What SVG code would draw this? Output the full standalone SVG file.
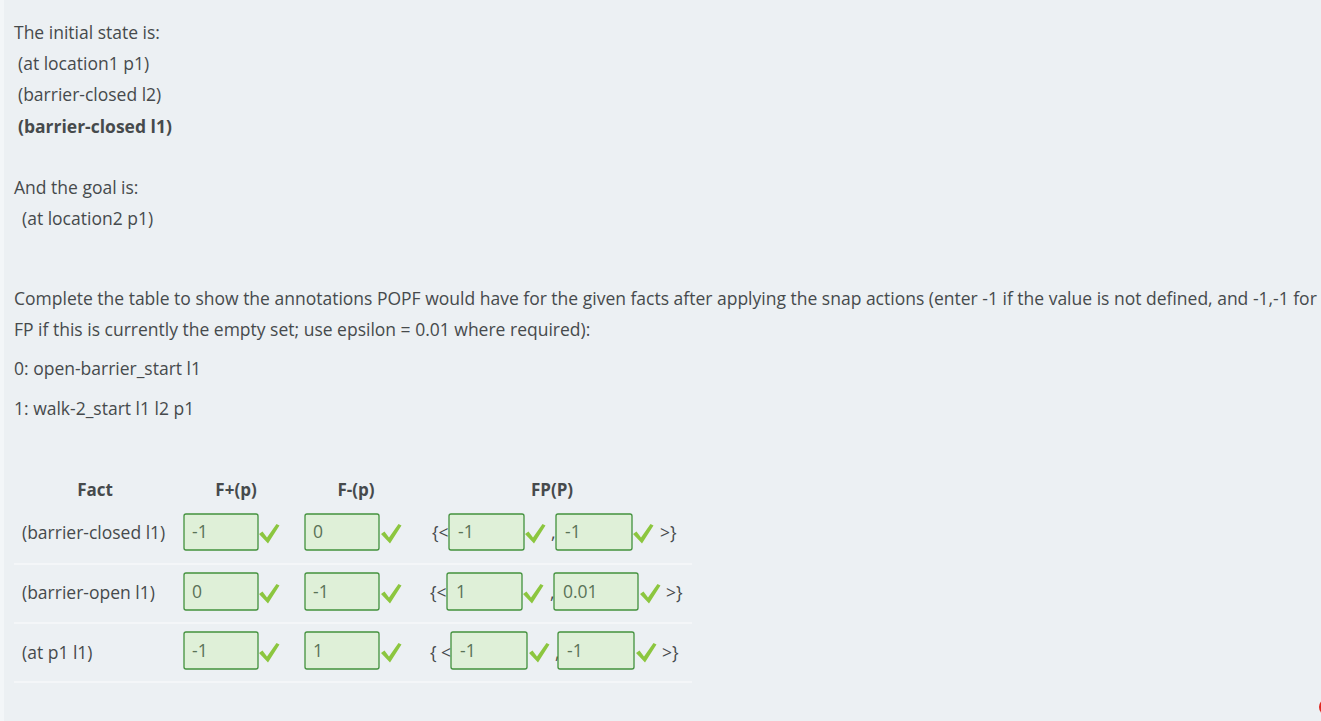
<svg xmlns="http://www.w3.org/2000/svg" width="1321" height="721" viewBox="0 0 1321 721">
<defs>
<style>
text{font-family:"Open Sans","Noto Sans","Liberation Sans",sans-serif;font-size:17.5px;fill:#464a4c}
.b{font-weight:bold}
.h{font-weight:bold;text-anchor:middle;font-size:17px}
.box{fill:#dff0d8;stroke:#43913d;stroke-width:1.3}
.v{fill:#5a7257}
.sep{stroke:#fbfcfd;stroke-width:1.2}
.chk{fill:#8cc63f}
</style>
<polygon id="chk" class="chk" points="0,10 3.5,7.5 8,13.5 17.5,0 20.5,1.5 9,19.5"/>
</defs>
<rect x="0" y="0" width="1321" height="721" fill="#ecf0f3"/>
<rect x="0" y="0" width="4" height="721" fill="#f3f6f8"/>
<g id="intro">
<text x="14" y="38.5">The initial state is:</text>
<text x="18" y="69.5">(at location1 p1)</text>
<text x="18" y="100.5">(barrier-closed l2)</text>
<text x="18" y="132.5" class="b">(barrier-closed l1)</text>
<text x="14" y="193.5">And the goal is:</text>
<text x="22" y="224.5">(at location2 p1)</text>
<text x="14" y="304.5">Complete the table to show the annotations POPF would have for the given facts after applying the snap actions (enter -1 if the value is not defined, and -1,-1 for</text>
<text x="14" y="335.5">FP if this is currently the empty set; use epsilon = 0.01 where required):</text>
<text x="14" y="374.5">0: open-barrier_start l1</text>
<text x="14" y="414.5">1: walk-2_start l1 l2 p1</text>
</g>
<g id="table-header">
<text x="95" y="496" class="h">Fact</text>
<text x="236" y="496" class="h">F+(p)</text>
<text x="356" y="496" class="h">F-(p)</text>
<text x="552" y="496" class="h">FP(P)</text>
</g>
<g id="separators">
<line class="sep" x1="14" y1="564" x2="692" y2="564"/>
<line class="sep" x1="14" y1="623" x2="692" y2="623"/>
<line class="sep" x1="14" y1="682" x2="692" y2="682"/>
</g>
<g id="row1">
<text x="22" y="538.5">(barrier-closed l1)</text>
<rect class="box" x="184" y="514" width="74" height="36" rx="2"/>
<text class="v" x="192" y="538">-1</text>
<use href="#chk" x="259" y="524"/>
<rect class="box" x="305" y="514" width="74" height="36" rx="2"/>
<text class="v" x="313" y="538">0</text>
<use href="#chk" x="381" y="524"/>
<text x="432" y="538.5">{&lt;</text>
<rect class="box" x="449" y="514" width="75" height="36" rx="2"/>
<text class="v" x="458" y="538">-1</text>
<use href="#chk" x="525" y="524"/>
<text x="551" y="538.5">,</text>
<rect class="box" x="556" y="514" width="76" height="36" rx="2"/>
<text class="v" x="565" y="538">-1</text>
<use href="#chk" x="633" y="524"/>
<text x="660" y="538.5">&gt;}</text>
</g>
<g id="row2">
<text x="22" y="598.5">(barrier-open l1)</text>
<rect class="box" x="184" y="573" width="74" height="37" rx="2"/>
<text class="v" x="192" y="598">0</text>
<use href="#chk" x="259" y="584"/>
<rect class="box" x="305" y="573" width="74" height="37" rx="2"/>
<text class="v" x="313" y="598">-1</text>
<use href="#chk" x="381" y="584"/>
<text x="430" y="598.5">{&lt;</text>
<rect class="box" x="447" y="573" width="75" height="37" rx="2"/>
<text class="v" x="456" y="598">1</text>
<use href="#chk" x="523" y="584"/>
<text x="550" y="598.5">,</text>
<rect class="box" x="554" y="573" width="84" height="37" rx="2"/>
<text class="v" x="563" y="598">0.01</text>
<use href="#chk" x="640" y="584"/>
<text x="666" y="598.5">&gt;}</text>
</g>
<g id="row3">
<text x="22" y="658.5">(at p1 l1)</text>
<rect class="box" x="184" y="632" width="74" height="37" rx="2"/>
<text class="v" x="192" y="657">-1</text>
<use href="#chk" x="259" y="643"/>
<rect class="box" x="305" y="632" width="74" height="37" rx="2"/>
<text class="v" x="313" y="657">1</text>
<use href="#chk" x="381" y="643"/>
<text x="430" y="658.5">{ &lt;</text>
<rect class="box" x="451" y="632" width="76" height="37" rx="2"/>
<text class="v" x="460" y="657">-1</text>
<use href="#chk" x="529" y="643"/>
<text x="555" y="658.5">,</text>
<rect class="box" x="558" y="632" width="76" height="37" rx="2"/>
<text class="v" x="567" y="657">-1</text>
<use href="#chk" x="636" y="643"/>
<text x="662" y="658.5">&gt;}</text>
</g>
<ellipse cx="1331" cy="707" rx="12" ry="10" fill="#e0261f"/>
</svg>
